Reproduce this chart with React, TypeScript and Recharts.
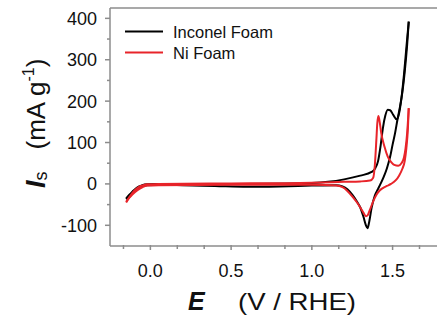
import React from 'react';
import { LineChart, Line, XAxis, YAxis, ReferenceLine } from 'recharts';

// cyclic voltammograms, potential E (V vs RHE) and specific current (mA/g)
const inconelForwardE = [-0.15, -0.13, -0.11, -0.09, -0.07, -0.05, -0.02, 0.05, 0.3, 0.6, 0.9, 1.0, 1.1, 1.2, 1.3, 1.37, 1.39, 1.41, 1.425, 1.44, 1.455, 1.47, 1.485, 1.505, 1.525, 1.54, 1.555, 1.57, 1.585, 1.6];
const inconelForwardI = [-35, -26, -18, -11, -6, -3, -1, 0, 0, 0, 1, 2, 5, 11, 20, 29, 36, 55, 90, 135, 165, 179, 178, 166, 156, 170, 208, 262, 328, 392];
const inconelReverseE = [1.6, 1.59, 1.575, 1.56, 1.545, 1.53, 1.515, 1.5, 1.485, 1.465, 1.445, 1.425, 1.41, 1.39, 1.37, 1.355, 1.345, 1.335, 1.32, 1.3, 1.28, 1.25, 1.22, 1.19, 1.15, 1.0, 0.8, 0.6, 0.4, 0.2, 0.05, -0.02, -0.05, -0.08, -0.11, -0.13, -0.15];
const inconelReverseI = [392, 335, 270, 220, 185, 155, 122, 95, 66, 38, 17, 0, -12, -28, -58, -92, -107, -100, -80, -57, -43, -26, -13, -6, -3, -4, -6, -7, -5, -3, -2, -3, -6, -12, -21, -29, -37];
const niForwardE = [-0.15, -0.13, -0.11, -0.09, -0.07, -0.05, -0.02, 0.05, 0.5, 1.0, 1.2, 1.3, 1.36, 1.38, 1.39, 1.4, 1.405, 1.412, 1.42, 1.43, 1.45, 1.47, 1.49, 1.51, 1.535, 1.555, 1.57, 1.58, 1.59, 1.6];
const niForwardI = [-43, -32, -21, -13, -7, -4, -1, 0, 1, 3, 5, 6, 8, 15, 45, 110, 145, 164, 150, 122, 90, 66, 53, 46, 44, 50, 63, 85, 122, 183];
const niReverseE = [1.6, 1.595, 1.585, 1.575, 1.56, 1.54, 1.52, 1.49, 1.465, 1.44, 1.42, 1.4, 1.38, 1.36, 1.345, 1.335, 1.32, 1.3, 1.28, 1.25, 1.22, 1.19, 1.15, 1.0, 0.5, 0.05, -0.02, -0.05, -0.08, -0.11, -0.13, -0.15];
const niReverseI = [183, 135, 85, 55, 36, 20, 9, 0, -5, -10, -16, -26, -42, -62, -76, -78, -70, -57, -45, -30, -17, -8, -4, -2, -2, -3, -4, -8, -15, -25, -33, -45];

const xTicks = [-1 / 6, 0, 1 / 6, 2 / 6, 0.5, 4 / 6, 5 / 6, 1, 7 / 6, 8 / 6, 1.5, 10 / 6];
const yTicks = [-100, -50, 0, 50, 100, 150, 200, 250, 300, 350, 400];

const series = [
  { name: 'Inconel Foam', color: '#000000' },
  { name: 'Ni Foam', color: '#e8242a' },
];

const toRows = (es: number[], is: number[]) =>
  es.map((E, k) => ({ E, I: is[k] })).sort((a, b) => a.E - b.E);

const inconelFwd = toRows(inconelForwardE, inconelForwardI);
const inconelRev = toRows(inconelReverseE, inconelReverseI);
const niFwd = toRows(niForwardE, niForwardI);
const niRev = toRows(niReverseE, niReverseI);

const FONT = '"Liberation Sans", Arial, sans-serif';
const AXIS = '#8c8c8c';

const isMajorX = (v: number) => Math.abs(v * 2 - Math.round(v * 2)) < 1e-6;

const XTick = (props: any) => {
  const { x, y, payload } = props;
  const major = isMajorX(payload.value);
  return (
    <g>
      <line x1={x} x2={x} y1={y - 1} y2={y + (major ? 4 : 3)} stroke={AXIS} strokeWidth={1.5} />
      {major && (
        <text x={x} y={y + 31} textAnchor="middle" fontSize={18} fontFamily={FONT} fill="#111">
          {payload.value.toFixed(1)}
        </text>
      )}
    </g>
  );
};

const YTick = (props: any) => {
  const { x, y, payload } = props;
  const major = payload.value % 100 === 0;
  return (
    <g>
      <line x1={x - (major ? 5 : 3)} x2={x} y1={y} y2={y} stroke={AXIS} strokeWidth={1.5} />
      {major && (
        <text x={x - 13} y={y + 6.5} textAnchor="end" fontSize={18} fontFamily={FONT} fill="#111">
          {payload.value}
        </text>
      )}
    </g>
  );
};

const LegendBox = () => (
  <svg width={170} height={40} style={{ position: 'absolute', left: 120, top: 24 }}>
    {series.map((s, k) => (
      <g key={s.name}>
        <line x1={5} x2={43} y1={7.5 + k * 21} y2={7.5 + k * 21} stroke={s.color} strokeWidth={2} />
        <text x={53} y={13.5 + k * 21} fontSize={16.5} fontFamily={FONT} fill="#111">
          {s.name}
        </text>
      </g>
    ))}
  </svg>
);

export default function App() {
  return (
    <div style={{ position: 'absolute', left: 0, top: 0, width: 437, height: 322, background: '#fff' }}>
      <LineChart width={437} height={322} margin={{ top: 8, right: 0, bottom: 0, left: 0 }}>
        <XAxis
          type="number"
          dataKey="E"
          domain={[-0.25, 1.775]}
          ticks={xTicks}
          interval={0}
          tick={<XTick />}
          tickSize={0}
          tickMargin={0}
          tickLine={false}
          height={76}
          stroke={AXIS}
          strokeWidth={1.5}
          allowDataOverflow
          label={{
            content: () => (
              <text y={310} fontFamily={FONT} fill="#111">
                <tspan x={188} fontSize={25} fontWeight="bold" fontStyle="italic">E</tspan>
                <tspan x={238} fontSize={24} textLength={118} lengthAdjust="spacingAndGlyphs">(V / RHE)</tspan>
              </text>
            ),
          }}
        />
        <YAxis
          type="number"
          dataKey="I"
          domain={[-150, 425]}
          ticks={yTicks}
          interval={0}
          tick={<YTick />}
          tickSize={0}
          tickMargin={0}
          tickLine={false}
          width={110}
          stroke={AXIS}
          strokeWidth={1.5}
          allowDataOverflow
          label={{
            content: () => (
              <text transform="rotate(-90, 45, 188)" x={45} y={188} fontFamily={FONT} fill="#111">
                <tspan fontSize={27} fontWeight="bold" fontStyle="italic">I</tspan>
                <tspan fontSize={18} dy={2}>s</tspan>
                <tspan fontSize={26} dy={-2} dx={22}>(mA g</tspan>
                <tspan fontSize={16} dy={-11}>-1</tspan>
                <tspan fontSize={26} dy={11}>)</tspan>
              </text>
            ),
          }}
        />
        <ReferenceLine y={425} stroke={AXIS} strokeWidth={1.5} />
        <Line data={inconelFwd} dataKey="I" name="Inconel Foam" type="monotone" stroke={series[0].color} strokeWidth={2} dot={false} isAnimationActive={false} />
        <Line data={inconelRev} dataKey="I" name="Inconel Foam (reverse)" type="monotone" stroke={series[0].color} strokeWidth={2} dot={false} isAnimationActive={false} />
        <Line data={niFwd} dataKey="I" name="Ni Foam" type="monotone" stroke={series[1].color} strokeWidth={2} dot={false} isAnimationActive={false} />
        <Line data={niRev} dataKey="I" name="Ni Foam (reverse)" type="monotone" stroke={series[1].color} strokeWidth={2} dot={false} isAnimationActive={false} />
      </LineChart>
      <LegendBox />
    </div>
  );
}
